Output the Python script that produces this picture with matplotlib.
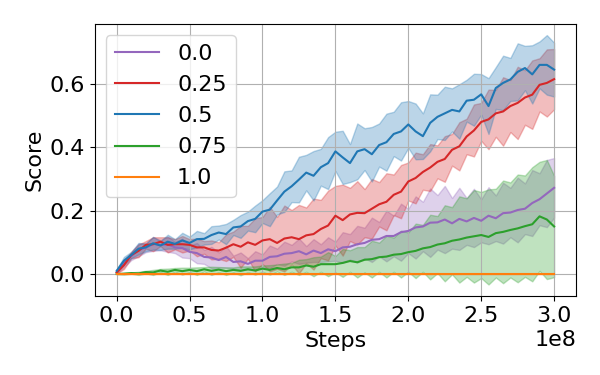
import numpy as np
import matplotlib
matplotlib.use("Agg")
import matplotlib.pyplot as plt

# training steps, one sample every 5e6
steps = np.linspace(0, 3e8, 61)

labels = ["0.0", "0.25", "0.5", "0.75", "1.0"]
colors = ["tab:purple", "tab:red", "tab:blue", "tab:green", "tab:orange"]

# mean score per run group
mean_00 = [0.005, 0.034, 0.056, 0.076, 0.083, 0.095, 0.091, 0.094, 0.084, 0.082,
           0.070, 0.066, 0.054, 0.052, 0.044, 0.054, 0.038, 0.040, 0.032, 0.042,
           0.042, 0.054, 0.056, 0.064, 0.066, 0.072, 0.062, 0.074, 0.066, 0.078,
           0.072, 0.084, 0.086, 0.094, 0.098, 0.108, 0.110, 0.120, 0.120, 0.132,
           0.136, 0.147, 0.150, 0.162, 0.163, 0.172, 0.160, 0.174, 0.166, 0.177,
           0.168, 0.184, 0.176, 0.192, 0.194, 0.202, 0.206, 0.224, 0.236, 0.254,
           0.272]
mean_025 = [0.005, 0.028, 0.060, 0.073, 0.092, 0.094, 0.102, 0.092, 0.094, 0.094,
            0.092, 0.084, 0.084, 0.076, 0.074, 0.083, 0.094, 0.086, 0.100, 0.092,
            0.106, 0.110, 0.098, 0.112, 0.116, 0.110, 0.122, 0.126, 0.142, 0.153,
            0.184, 0.170, 0.188, 0.193, 0.192, 0.206, 0.220, 0.228, 0.250, 0.260,
            0.292, 0.303, 0.322, 0.336, 0.354, 0.363, 0.392, 0.403, 0.434, 0.453,
            0.480, 0.488, 0.507, 0.513, 0.530, 0.540, 0.557, 0.566, 0.597, 0.603,
            0.615]
mean_05 = [0.010, 0.042, 0.060, 0.080, 0.084, 0.097, 0.090, 0.102, 0.095, 0.106,
           0.098, 0.110, 0.111, 0.123, 0.131, 0.126, 0.147, 0.150, 0.167, 0.174,
           0.197, 0.203, 0.232, 0.260, 0.277, 0.298, 0.320, 0.310, 0.337, 0.350,
           0.387, 0.368, 0.350, 0.387, 0.394, 0.378, 0.407, 0.416, 0.442, 0.450,
           0.472, 0.450, 0.435, 0.477, 0.496, 0.507, 0.518, 0.513, 0.547, 0.550,
           0.567, 0.530, 0.587, 0.603, 0.614, 0.638, 0.650, 0.630, 0.660, 0.660,
           0.645]
mean_075 = [0.000, 0.001, 0.003, 0.002, 0.006, 0.005, 0.011, 0.007, 0.013, 0.009,
            0.013, 0.009, 0.015, 0.010, 0.014, 0.009, 0.013, 0.010, 0.015, 0.011,
            0.017, 0.013, 0.019, 0.015, 0.021, 0.021, 0.027, 0.023, 0.031, 0.031,
            0.031, 0.035, 0.041, 0.037, 0.045, 0.047, 0.053, 0.055, 0.061, 0.063,
            0.069, 0.073, 0.081, 0.085, 0.093, 0.097, 0.105, 0.109, 0.115, 0.119,
            0.123, 0.117, 0.129, 0.133, 0.139, 0.144, 0.151, 0.157, 0.182, 0.172,
            0.150]
mean_10 = [0.0] * 61

# spread (std) per run group
std_00 = [0.004, 0.012, 0.012, 0.020, 0.014, 0.022, 0.016, 0.024, 0.018, 0.030,
          0.020, 0.032, 0.022, 0.034, 0.024, 0.034, 0.020, 0.028, 0.018, 0.030,
          0.020, 0.036, 0.024, 0.038, 0.026, 0.040, 0.026, 0.036, 0.028, 0.038,
          0.030, 0.048, 0.040, 0.058, 0.048, 0.070, 0.054, 0.080, 0.064, 0.090,
          0.070, 0.098, 0.078, 0.108, 0.086, 0.106, 0.080, 0.098, 0.074, 0.092,
          0.068, 0.090, 0.072, 0.096, 0.078, 0.102, 0.080, 0.104, 0.082, 0.106,
          0.094]
std_025 = [0.004, 0.012, 0.010, 0.020, 0.012, 0.022, 0.014, 0.024, 0.016, 0.026,
           0.018, 0.028, 0.020, 0.030, 0.026, 0.042, 0.040, 0.066, 0.052, 0.084,
           0.074, 0.102, 0.082, 0.104, 0.086, 0.108, 0.088, 0.112, 0.092, 0.110,
           0.094, 0.112, 0.084, 0.100, 0.076, 0.094, 0.070, 0.090, 0.064, 0.084,
           0.060, 0.080, 0.056, 0.074, 0.052, 0.072, 0.050, 0.076, 0.056, 0.082,
           0.060, 0.094, 0.074, 0.108, 0.082, 0.114, 0.086, 0.108, 0.084, 0.106,
           0.095]
std_05 = [0.005, 0.012, 0.010, 0.018, 0.012, 0.020, 0.014, 0.022, 0.015, 0.024,
          0.020, 0.026, 0.018, 0.028, 0.022, 0.032, 0.024, 0.036, 0.030, 0.042,
          0.036, 0.052, 0.044, 0.064, 0.050, 0.072, 0.056, 0.078, 0.058, 0.082,
          0.062, 0.084, 0.060, 0.088, 0.066, 0.086, 0.068, 0.090, 0.070, 0.092,
          0.074, 0.088, 0.072, 0.090, 0.070, 0.084, 0.068, 0.086, 0.066, 0.082,
          0.064, 0.088, 0.066, 0.086, 0.068, 0.090, 0.070, 0.092, 0.074, 0.094,
          0.085]
std_075 = [0.001, 0.003, 0.002, 0.005, 0.004, 0.008, 0.005, 0.010, 0.006, 0.011,
           0.007, 0.012, 0.007, 0.013, 0.008, 0.012, 0.008, 0.014, 0.009, 0.013,
           0.010, 0.015, 0.011, 0.018, 0.014, 0.024, 0.020, 0.030, 0.024, 0.038,
           0.026, 0.044, 0.034, 0.048, 0.040, 0.058, 0.046, 0.066, 0.054, 0.074,
           0.062, 0.086, 0.074, 0.102, 0.090, 0.120, 0.106, 0.136, 0.124, 0.146,
           0.136, 0.150, 0.140, 0.162, 0.150, 0.170, 0.160, 0.180, 0.172, 0.188,
           0.160]
std_10 = [0.0] * 61

means = [mean_00, mean_025, mean_05, mean_075, mean_10]
stds = [std_00, std_025, std_05, std_075, std_10]

plt.rcParams['font.size'] = 16
fig, ax = plt.subplots(figsize=(6, 3.75), dpi=100)
fig.subplots_adjust(left=0.158, right=0.96, top=0.936, bottom=0.211)

for lab, col, m, s in zip(labels, colors, means, stds):
    m = np.array(m)
    s = np.array(s)
    ax.plot(steps, m, color=col, lw=1.5, label=lab)
    ax.fill_between(steps, m - s, m + s, color=col, alpha=0.3)

ax.set_xlabel('Steps')
ax.set_ylabel('Score')
ax.set_ylim(-0.069, 0.789)
ax.set_yticks([0.0, 0.2, 0.4, 0.6])
ax.grid(True)
ax.legend(loc='upper left')

plt.savefig('out.png', dpi=100)
